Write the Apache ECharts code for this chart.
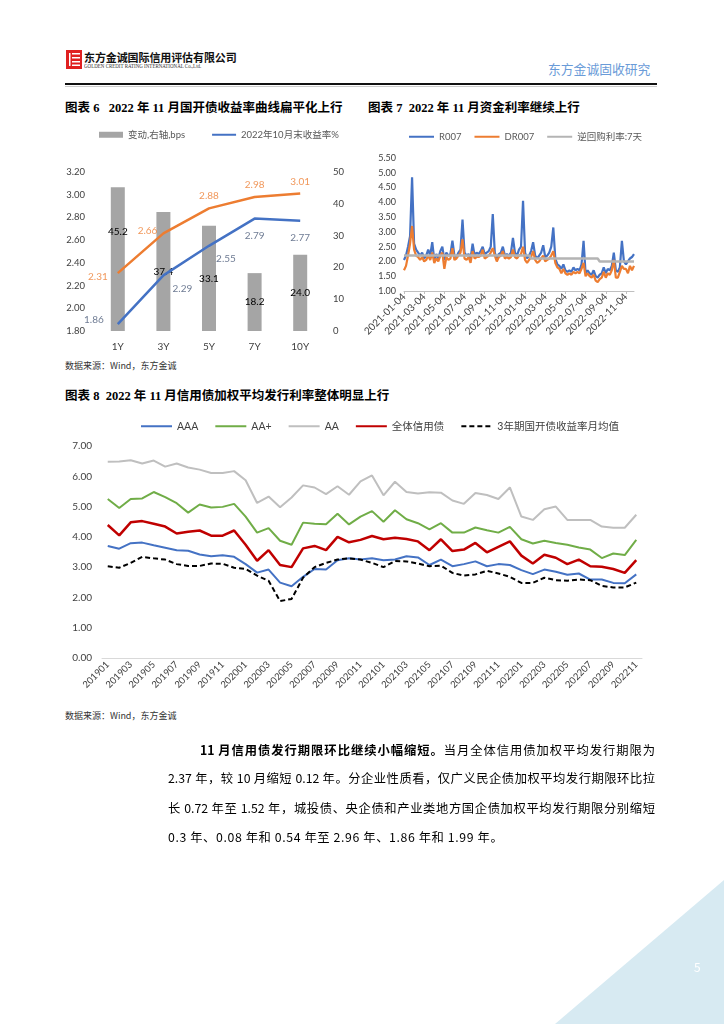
<!DOCTYPE html>
<html><head><meta charset="utf-8">
<script src="https://cdn.jsdelivr.net/npm/echarts@6/dist/echarts.min.js"></script>
<style>
body{margin:0;width:724px;height:1024px;position:relative;background:#fff;overflow:hidden;font-family:"Noto Sans CJK SC",sans-serif;}
.abs{position:absolute;white-space:nowrap;}
#chart{position:absolute;left:0;top:0;width:724px;height:1024px;}
.ttl{font-family:"Liberation Serif","Noto Sans CJK SC",serif;font-weight:bold;font-size:12.5px;color:#000;line-height:16px;}
.src{font-size:9px;color:#333;line-height:12px;}
.para{position:absolute;font-size:12.3px;color:#000;line-height:16px;text-align:justify;text-align-last:justify;white-space:nowrap;}
</style></head>
<body>
<!-- header -->
<svg class="abs" style="left:66px;top:50px" width="16" height="19" viewBox="0 0 16 19">
  <rect x="0" y="0" width="16" height="19" fill="#e02020"/>
  <rect x="3" y="3" width="1.5" height="13" fill="#fff"/>
  <rect x="6" y="3" width="8" height="1.5" fill="#fff"/>
  <rect x="6" y="7" width="8" height="1.5" fill="#fff"/>
  <rect x="6" y="11" width="8" height="1.5" fill="#fff"/>
  <rect x="6" y="14.5" width="8" height="1.5" fill="#fff"/>
</svg>
<div class="abs" style="left:84px;top:49px;font-size:11px;font-weight:bold;color:#111;font-family:'Noto Sans CJK SC';letter-spacing:-0.1px;">东方金诚国际信用评估有限公司</div>
<div class="abs" style="left:84px;top:63px;font-size:8px;color:#333;font-family:'Liberation Serif';transform:scale(0.62,0.7);transform-origin:0 0;">GOLDEN CREDIT RATING INTERNATIONAL Co.,Ltd.</div>
<div class="abs" style="left:548px;top:59px;font-size:12.8px;color:#6a9bd8;">东方金诚固收研究</div>
<div class="abs" style="left:65px;top:83px;width:592px;height:1.6px;background:#111;"></div>
<div class="abs" style="left:65px;top:86px;width:592px;height:1px;background:#ccc;"></div>

<!-- titles -->
<div class="abs ttl" style="left:65px;top:100px;">图表 6&nbsp;&nbsp;&nbsp;2022 年 11 月国开债收益率曲线扁平化上行</div>
<div class="abs ttl" style="left:368px;top:100px;">图表 7&nbsp;&nbsp;2022 年 11 月资金利率继续上行</div>
<div class="abs ttl" style="left:65px;top:388px;">图表 8&nbsp;&nbsp;2022 年 11 月信用债加权平均发行利率整体明显上行</div>
<div class="abs src" style="left:65px;top:360px;">数据来源：Wind，东方金诚</div>
<div class="abs src" style="left:65px;top:710px;">数据来源：Wind，东方金诚</div>

<div id="chart"></div>

<!-- paragraph -->
<div class="para" style="left:200px;top:742px;width:455px;"><b>11 月信用债发行期限环比继续小幅缩短。</b>当月全体信用债加权平均发行期限为</div>
<div class="para" style="left:168px;top:770px;width:487px;">2.37 年，较 10 月缩短 0.12 年。分企业性质看，仅广义民企债加权平均发行期限环比拉</div>
<div class="para" style="left:168px;top:800px;width:487px;">长 0.72 年至 1.52 年，城投债、央企债和产业类地方国企债加权平均发行期限分别缩短</div>
<div class="para" style="left:168px;top:829px;text-align:left;text-align-last:left;letter-spacing:0.6px;">0.3 年、0.08 年和 0.54 年至 2.96 年、1.86 年和 1.99 年。</div>

<!-- footer -->
<svg class="abs" style="left:0;top:0" width="724" height="1024"><polygon points="724,880 724,1024 555,1024" fill="#d7eaf2"/></svg>
<div class="abs" style="left:694px;top:958px;font-size:12px;color:#fff;">5</div>

<script>
// ---------- Chart 6 data ----------
const c6Cats = ['1Y','3Y','5Y','7Y','10Y'];
const c6Change = [45.2, 37.4, 33.1, 18.2, 24.0];
const c6Oct = [1.86, 2.29, 2.55, 2.79, 2.77];
const c6Nov = [2.31, 2.66, 2.88, 2.98, 3.01];

// ---------- Chart 7 data ----------
const c7Months = ['2021-01','2021-02','2021-03','2021-04','2021-05','2021-06','2021-07','2021-08','2021-09','2021-10','2021-11','2021-12',
  '2022-01','2022-02','2022-03','2022-04','2022-05','2022-06','2022-07','2022-08','2022-09','2022-10','2022-11'];
const c7Days = ['04','10','16','22','28'];
const c7R007 = [
  2.05,2.20,2.50,2.85,4.85,  2.60,2.40,2.30,2.20,2.30,  2.10,2.20,2.40,2.20,2.65,  2.05,2.25,2.10,2.35,2.50,
  2.05,2.30,2.20,2.25,2.70,  2.20,2.15,2.30,2.40,3.42,  2.30,2.20,2.25,2.10,2.60,  2.20,2.30,2.25,2.35,2.50,
  2.25,2.30,2.35,2.50,3.60,  2.30,2.10,2.25,2.30,2.50,  2.20,2.25,2.20,2.30,2.80,  2.30,2.20,2.40,2.50,4.05,
  2.30,2.10,2.20,2.35,2.65,  2.20,2.10,2.20,2.30,2.55,  2.15,2.20,2.30,2.50,3.15,  2.10,1.90,1.85,1.75,1.90,
  1.70,1.65,1.70,1.65,1.80,  1.70,1.75,1.70,1.90,2.70,  1.60,1.70,1.60,1.55,1.70,  1.50,1.45,1.55,1.60,1.80,
  1.60,1.75,1.70,1.85,2.30,  1.70,1.65,1.80,2.70,2.00,  1.90,2.00,2.10,2.15,2.25];
const c7DR007 = [
  1.70,1.85,2.20,2.60,3.20,  2.40,2.20,2.15,2.05,2.15,  2.00,2.05,2.20,2.05,2.30,  1.95,2.10,2.00,2.20,2.30,
  1.75,2.15,2.05,2.10,2.45,  2.05,2.10,2.20,2.30,2.75,  2.10,2.05,2.15,1.95,2.35,  2.10,2.15,2.15,2.20,2.40,
  2.10,2.15,2.20,2.30,2.45,  2.20,2.00,2.15,2.20,2.35,  2.10,2.15,2.10,2.15,2.40,  2.15,2.10,2.20,2.25,2.50,
  2.05,1.95,2.05,2.15,2.35,  2.05,1.95,2.00,2.10,2.20,  2.00,2.05,2.10,2.20,2.35,  1.95,1.80,1.75,1.60,1.75,
  1.60,1.55,1.60,1.55,1.65,  1.60,1.65,1.60,1.75,1.95,  1.50,1.60,1.50,1.45,1.55,  1.35,1.30,1.40,1.45,1.65,
  1.45,1.60,1.55,1.70,2.05,  1.45,1.45,1.65,1.85,1.75,  1.75,1.60,1.85,1.70,1.85];
const c7Repo = [
  2.2,2.2,2.2,2.2,2.2,  2.2,2.2,2.2,2.2,2.2,  2.2,2.2,2.2,2.2,2.2,  2.2,2.2,2.2,2.2,2.2,
  2.2,2.2,2.2,2.2,2.2,  2.2,2.2,2.2,2.2,2.2,  2.2,2.2,2.2,2.2,2.2,  2.2,2.2,2.2,2.2,2.2,
  2.2,2.2,2.2,2.2,2.2,  2.2,2.2,2.2,2.2,2.2,  2.2,2.2,2.2,2.2,2.2,  2.2,2.2,2.2,2.2,2.2,
  2.2,2.2,2.2,2.1,2.1,  2.1,2.1,2.1,2.1,2.1,  2.1,2.1,2.1,2.1,2.1,  2.1,2.1,2.1,2.1,2.1,
  2.1,2.1,2.1,2.1,2.1,  2.1,2.1,2.1,2.1,2.1,  2.1,2.1,2.1,2.1,2.1,  2.1,2.1,2.0,2.0,2.0,
  2.0,2.0,2.0,2.0,2.0,  2.0,2.0,2.0,2.0,2.0,  2.0,2.0,2.0,2.0,2.0];
const c7Dates = [];
c7Months.forEach(m => c7Days.forEach(d => c7Dates.push(m + '-' + d)));

// ---------- Chart 8 data ----------
const c8Months = ['201901','201902','201903','201904','201905','201906','201907','201908','201909','201910','201911','201912',
  '202001','202002','202003','202004','202005','202006','202007','202008','202009','202010','202011','202012',
  '202101','202102','202103','202104','202105','202106','202107','202108','202109','202110','202111','202112',
  '202201','202202','202203','202204','202205','202206','202207','202208','202209','202210','202211'];
const c8AAA = [3.70,3.61,3.79,3.81,3.72,3.64,3.56,3.54,3.42,3.36,3.39,3.34,3.10,2.82,2.92,2.49,2.37,2.68,2.94,2.92,3.23,3.29,3.25,3.29,
  3.23,3.25,3.36,3.32,3.07,3.25,3.03,3.10,3.19,3.03,3.10,3.07,2.90,2.77,2.92,2.85,2.75,2.79,2.59,2.59,2.48,2.47,2.76];
const c8AAp = [5.25,4.95,5.25,5.27,5.48,5.31,5.11,4.80,5.07,4.97,4.99,5.09,4.67,4.14,4.29,3.87,3.74,4.47,4.43,4.42,4.76,4.41,4.67,4.85,
  4.50,4.88,4.58,4.45,4.25,4.45,4.14,4.14,4.31,4.22,4.14,4.33,3.92,3.78,3.87,3.80,3.74,3.65,3.58,3.30,3.45,3.40,3.90];
const c8AA = [6.48,6.49,6.53,6.42,6.52,6.32,6.42,6.29,6.22,6.11,6.11,6.17,5.87,5.12,5.33,4.98,5.30,5.70,5.63,5.41,5.67,5.39,5.83,6.03,
  5.37,5.82,5.48,5.43,5.47,5.46,5.20,5.09,5.45,5.38,5.25,5.63,4.67,4.56,4.91,5.00,4.56,4.56,4.56,4.34,4.30,4.30,4.73];
const c8All = [4.39,4.05,4.48,4.52,4.43,4.34,4.11,4.17,4.21,4.04,4.04,4.21,3.74,3.21,3.56,3.07,3.00,3.62,3.70,3.56,4.00,3.82,3.90,4.03,
  3.92,3.97,3.93,3.85,3.56,3.92,3.53,3.58,3.80,3.49,3.67,3.85,3.38,3.12,3.41,3.31,3.10,3.25,3.03,3.01,2.94,2.81,3.23];
const c8CDB3Y = [3.03,2.98,3.14,3.34,3.29,3.25,3.10,3.04,3.04,3.12,3.11,2.98,2.94,2.72,2.55,1.88,1.95,2.65,3.00,3.14,3.25,3.29,3.25,3.14,
  3.00,3.20,3.19,3.12,3.03,3.05,2.81,2.72,2.76,2.88,2.79,2.68,2.48,2.48,2.65,2.57,2.55,2.59,2.57,2.38,2.33,2.33,2.49];

// ---------- build chart ----------
const FONT = 'Lato, "Noto Sans CJK SC", sans-serif';
const chart = echarts.init(document.getElementById('chart'), null, {renderer: 'canvas'});

// label placement (style only)
const octLbl = [
  {position: 'left', distance: 14, offset: [0, -4]},
  {position: 'bottom', distance: 6, offset: [19, 2]},
  {position: 'bottom', distance: 6, offset: [17, 2]},
  {position: 'bottom', distance: 12},
  {position: 'bottom', distance: 12}
];
const novLbl = [
  {position: 'left', distance: 10, offset: [0, 4]},
  {position: 'left', distance: 6, offset: [0, -3]},
  {position: 'top', distance: 8},
  {position: 'top', distance: 7},
  {position: 'top', distance: 7}
];
const oddMonthLabel = (i, v) => v.slice(8) === '04' && parseInt(v.slice(5, 7), 10) % 2 === 1;
const noSym = {opacity: 0, color: 'rgba(0,0,0,0)', borderWidth: 0};

const option = {
  animation: false,
  textStyle: {fontFamily: FONT},
  legend: [
    {data: [{name: '变动,右轴,bps', icon: 'rect'}, {name: '2022年10月末收益率%', itemStyle: noSym}], left: 94, top: 125, itemWidth: 24, itemHeight: 6, itemGap: 26,
     textStyle: {fontSize: 9.5, color: '#595959', fontFamily: FONT}},
    {data: [{name: 'R007', itemStyle: noSym}, {name: 'DR007', itemStyle: noSym}, {name: '逆回购利率:7天', itemStyle: noSym}],
     left: 403, top: 127, itemWidth: 25, itemHeight: 8, itemGap: 12,
     textStyle: {fontSize: 9.5, color: '#595959', fontFamily: FONT}},
    {data: ['AAA', 'AA+', 'AA', '全体信用债', '3年期国开债收益率月均值'].map(n => ({name: n, itemStyle: noSym})),
     left: 135, top: 416, itemWidth: 31, itemHeight: 10, itemGap: 16,
     textStyle: {fontSize: 10.5, color: '#404040', fontFamily: FONT}}
  ],
  grid: [
    {left: 95, width: 228, top: 172, height: 159},
    {left: 404, width: 230, top: 158, height: 133},
    {left: 102, width: 540, top: 446, height: 212}
  ],
  xAxis: [
    {gridIndex: 0, type: 'category', data: c6Cats, axisLine: {show: false}, axisTick: {show: false},
     axisLabel: {fontSize: 10, color: '#404040', margin: 11, fontFamily: FONT}},
    {gridIndex: 1, type: 'category', data: c7Dates, boundaryGap: false,
     axisLine: {lineStyle: {color: '#bfbfbf'}}, axisTick: {show: true, interval: oddMonthLabel, length: 3, lineStyle: {color: '#bfbfbf'}},
     axisLabel: {rotate: 45, interval: oddMonthLabel, fontSize: 10, color: '#404040', margin: 4, fontFamily: FONT}},
    {gridIndex: 2, type: 'category', data: c8Months,
     axisLine: {lineStyle: {color: '#d9d9d9'}}, axisTick: {show: false},
     axisLabel: {rotate: 45, interval: 1, fontSize: 9.5, color: '#404040', margin: 5, fontFamily: FONT}}
  ],
  yAxis: [
    {gridIndex: 0, type: 'value', min: 1.8, max: 3.2, interval: 0.2, splitLine: {show: false}, axisLine: {show: false}, axisTick: {show: false},
     axisLabel: {fontSize: 9.5, color: '#404040', margin: 10, formatter: v => v.toFixed(2), fontFamily: FONT}},
    {gridIndex: 0, type: 'value', position: 'right', min: 0, max: 50, interval: 10, splitLine: {show: false}, axisLine: {show: false}, axisTick: {show: false},
     axisLabel: {fontSize: 9.5, color: '#404040', margin: 10, fontFamily: FONT}},
    {gridIndex: 1, type: 'value', min: 1, max: 5.5, interval: 0.5, splitLine: {show: false}, axisLine: {show: false}, axisTick: {show: false},
     axisLabel: {fontSize: 9, color: '#404040', margin: 8, formatter: v => v.toFixed(2), fontFamily: FONT}},
    {gridIndex: 2, type: 'value', min: 0, max: 7, interval: 1, splitLine: {show: false}, axisLine: {show: false}, axisTick: {show: false},
     axisLabel: {fontSize: 10, color: '#404040', margin: 10, formatter: v => v.toFixed(2), fontFamily: FONT}}
  ],
  series: [
    {name: '变动,右轴,bps', type: 'bar', xAxisIndex: 0, yAxisIndex: 1, barWidth: 14, itemStyle: {color: '#a5a5a5'},
     data: c6Change.map((v, i) => ({value: v, label: i === 0 ? {offset: [0, -27]} : {}})),
     label: {show: true, position: 'inside', color: '#000', fontSize: 10, formatter: p => p.value.toFixed(1), fontFamily: FONT}, z: 1},
    {name: '2022年10月末收益率%', type: 'line', xAxisIndex: 0, yAxisIndex: 0, symbol: 'none', color: '#4472c4',
     lineStyle: {width: 2.5, color: '#4472c4'}, data: c6Oct, z: 3},
    {name: '2022年11月末收益率%', type: 'line', xAxisIndex: 0, yAxisIndex: 0, symbol: 'none', color: '#ed7d31',
     lineStyle: {width: 2.5, color: '#ed7d31'}, data: c6Nov, z: 3},
    {name: 'oct-labels', type: 'scatter', xAxisIndex: 0, yAxisIndex: 0, symbolSize: 0, silent: true,
     data: c6Oct.map((v, i) => ({value: v, label: octLbl[i]})),
     label: {show: true, color: '#4a5a78', fontSize: 10, fontFamily: FONT, formatter: p => p.value.toFixed(2)}, z: 4},
    {name: 'nov-labels', type: 'scatter', xAxisIndex: 0, yAxisIndex: 0, symbolSize: 0, silent: true,
     data: c6Nov.map((v, i) => ({value: v, label: novLbl[i]})),
     label: {show: true, color: '#ed7d31', fontSize: 10, fontFamily: FONT, formatter: p => p.value.toFixed(2)}, z: 4},

    {name: 'R007', type: 'line', xAxisIndex: 1, yAxisIndex: 2, symbol: 'none', data: c7R007, color: '#4472c4',
     lineStyle: {width: 2.2, color: '#4472c4'}},
    {name: 'DR007', type: 'line', xAxisIndex: 1, yAxisIndex: 2, symbol: 'none', data: c7DR007, color: '#ed7d31',
     lineStyle: {width: 2.2, color: '#ed7d31'}},
    {name: '逆回购利率:7天', type: 'line', xAxisIndex: 1, yAxisIndex: 2, symbol: 'none', data: c7Repo, color: '#b4b4b4',
     lineStyle: {width: 2.5, color: '#b4b4b4'}},

    {name: 'AAA', type: 'line', xAxisIndex: 2, yAxisIndex: 3, symbol: 'none', data: c8AAA, color: '#4472c4', lineStyle: {width: 2, color: '#4472c4'}},
    {name: 'AA+', type: 'line', xAxisIndex: 2, yAxisIndex: 3, symbol: 'none', data: c8AAp, color: '#70ad47', lineStyle: {width: 2, color: '#70ad47'}},
    {name: 'AA', type: 'line', xAxisIndex: 2, yAxisIndex: 3, symbol: 'none', data: c8AA, color: '#bfbfbf', lineStyle: {width: 2, color: '#bfbfbf'}},
    {name: '全体信用债', type: 'line', xAxisIndex: 2, yAxisIndex: 3, symbol: 'none', data: c8All, color: '#c00000', lineStyle: {width: 2.5, color: '#c00000'}},
    {name: '3年期国开债收益率月均值', type: 'line', xAxisIndex: 2, yAxisIndex: 3, symbol: 'none', data: c8CDB3Y, color: '#000',
     lineStyle: {width: 2, color: '#000', type: [5, 3]}}
  ]
};
chart.setOption(option);
</script>
</body></html>
